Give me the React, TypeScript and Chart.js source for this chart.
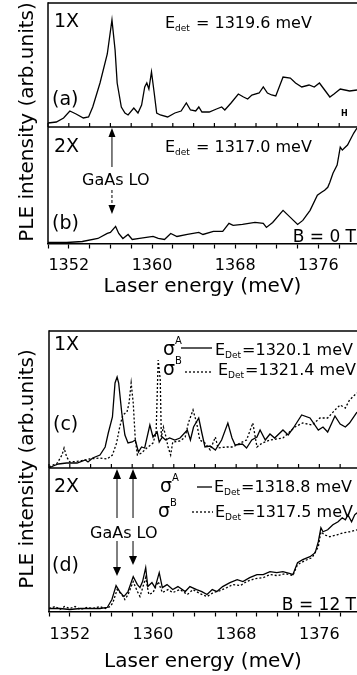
import React, { useEffect, useRef } from 'react';
import { Chart, registerables } from 'chart.js';
Chart.register(...registerables);

const FONT = '"DejaVu Sans", sans-serif';

// ---------- Figure 1 (B = 0 T) ----------
const aEnergy = [1350.0, 1350.8, 1351.5, 1352.1, 1352.7, 1353.4, 1353.9, 1354.3, 1355.0, 1355.7, 1356.15, 1356.45, 1356.65, 1357.05, 1357.4, 1357.7, 1358.25, 1358.65, 1359.0, 1359.3, 1359.5, 1359.7, 1359.95, 1360.2, 1360.45, 1360.8, 1361.5, 1362.2, 1362.8, 1363.3, 1363.7, 1364.2, 1364.5, 1364.8, 1365.5, 1366.2, 1366.7, 1367.0, 1367.6, 1368.3, 1368.8, 1369.2, 1369.6, 1370.3, 1370.7, 1371.1, 1371.5, 1371.9, 1372.6, 1373.3, 1373.8, 1374.4, 1375.1, 1375.6, 1376.1, 1376.6, 1377.1, 1377.5, 1378.1, 1379.0, 1379.71];
const aPLE = [4, 5, 9, 16, 13, 9, 10, 20, 44, 73, 107, 77, 44, 20, 14, 12, 19, 14, 22, 40, 44, 38, 55, 35, 14, 12, 10, 14, 16, 24, 17, 16, 20, 15, 15, 18, 20, 17, 24, 33, 30, 28, 32, 34, 40, 34, 32, 31, 50, 49, 44, 40, 42, 40, 44, 37, 30, 33, 38, 36, 37];

const bEnergy = [1350.0, 1351.8, 1353.3, 1354.8, 1355.7, 1356.0, 1356.5, 1356.8, 1357.2, 1357.7, 1358.1, 1358.8, 1360.1, 1360.6, 1361.2, 1361.8, 1362.4, 1363.4, 1364.5, 1364.9, 1365.9, 1366.8, 1367.4, 1367.8, 1368.7, 1369.9, 1370.7, 1371.0, 1371.6, 1372.6, 1373.3, 1374.0, 1374.5, 1375.2, 1375.9, 1376.3, 1376.6, 1376.9, 1377.1, 1377.4, 1377.8, 1378.0, 1378.1, 1378.3, 1378.5, 1378.8, 1379.1, 1379.4, 1379.71];
const bPLE = [1, 1, 2, 5, 10, 11, 17, 10, 5, 9, 4, 5, 7, 5, 4, 10, 7, 9, 11, 9, 12, 12, 20, 18, 19, 21, 20, 16, 21, 33, 26, 19, 23, 33, 48, 51, 53, 56, 61, 70, 78, 90, 96, 93, 95, 98, 104, 110, 115];

// ---------- Figure 2 (B = 12 T) ----------
const cEnergyA = [1350.0, 1350.4, 1350.9, 1351.7, 1352.7, 1353.5, 1353.75, 1354.2, 1354.9, 1355.4, 1355.7, 1356.1, 1356.35, 1356.55, 1356.7, 1357.0, 1357.3, 1357.6, 1358.0, 1358.3, 1358.6, 1358.9, 1359.2, 1359.7, 1360.0, 1360.4, 1360.6, 1360.9, 1361.2, 1361.6, 1362.1, 1362.6, 1363.3, 1363.6, 1363.9, 1364.4, 1364.7, 1365.0, 1365.5, 1366.0, 1366.6, 1367.2, 1367.6, 1367.9, 1368.6, 1369.0, 1369.5, 1370.0, 1370.3, 1370.8, 1371.25, 1371.7, 1372.5, 1373.0, 1373.5, 1374.3, 1375.1, 1375.9, 1376.35, 1376.8, 1377.5, 1378.0, 1378.5, 1378.9, 1379.62];
const cPLEA = [0, 2, 4, 5, 5, 8, 6, 10, 13, 21, 35, 51, 85, 91, 85, 55, 33, 25, 26, 28, 16, 21, 20, 43, 31, 36, 26, 31, 28, 30, 28, 30, 38, 28, 41, 50, 35, 21, 22, 18, 28, 45, 30, 23, 24, 20, 28, 31, 38, 28, 34, 30, 38, 33, 40, 53, 50, 38, 41, 36, 52, 44, 41, 45, 56];
const cEnergyB = [1350.0, 1350.8, 1351.25, 1351.45, 1351.7, 1352.0, 1353.0, 1353.9, 1354.9, 1355.6, 1356.1, 1356.5, 1356.8, 1357.1, 1357.5, 1357.7, 1357.9, 1358.1, 1358.3, 1358.5, 1358.9, 1359.4, 1360.0, 1360.3, 1360.5, 1360.7, 1360.8, 1361.0, 1361.25, 1361.45, 1361.7, 1361.9, 1362.6, 1363.1, 1363.4, 1363.85, 1364.2, 1364.5, 1365.0, 1365.5, 1366.0, 1366.25, 1367.1, 1367.7, 1368.4, 1369.0, 1369.6, 1370.0, 1370.5, 1371.25, 1372.5, 1373.65, 1374.4, 1375.3, 1376.05, 1376.8, 1377.5, 1378.0, 1378.5, 1378.9, 1379.4, 1379.62];
const cPLEB = [1, 5, 13, 20, 11, 6, 7, 9, 10, 9, 13, 25, 41, 53, 56, 65, 85, 65, 28, 13, 15, 20, 25, 35, 108, 88, 31, 41, 31, 21, 13, 26, 27, 31, 45, 58, 45, 28, 25, 18, 31, 20, 21, 21, 25, 28, 45, 21, 25, 28, 30, 41, 45, 43, 50, 50, 58, 63, 60, 68, 73, 75];

const dEnergyA = [1350.0, 1351.05, 1352.0, 1353.0, 1353.9, 1354.9, 1355.6, 1356.05, 1356.45, 1356.8, 1357.2, 1357.6, 1358.1, 1358.5, 1358.75, 1359.0, 1359.3, 1359.5, 1359.9, 1360.2, 1360.6, 1360.9, 1361.35, 1361.9, 1362.4, 1363.1, 1363.55, 1364.2, 1364.7, 1365.2, 1365.7, 1366.15, 1366.7, 1367.4, 1368.1, 1368.65, 1369.3, 1370.0, 1370.6, 1371.25, 1371.9, 1372.5, 1373.2, 1373.45, 1373.9, 1374.4, 1375.1, 1375.6, 1375.9, 1376.15, 1376.35, 1376.8, 1377.3, 1377.8, 1378.2, 1378.5, 1378.75, 1379.1, 1379.4, 1379.62];
const dPLEA = [3, 3, 2, 3, 3, 3, 4, 12, 26, 20, 15, 20, 35, 27, 24, 30, 44, 25, 29, 24, 39, 24, 27, 22, 25, 20, 25, 22, 20, 17, 22, 20, 25, 29, 32, 30, 34, 37, 37, 40, 39, 40, 38, 37, 49, 52, 55, 59, 70, 84, 80, 82, 87, 90, 94, 92, 97, 90, 97, 99];
const dEnergyB = [1350.0, 1350.6, 1351.05, 1351.5, 1352.0, 1352.5, 1353.0, 1353.65, 1354.2, 1354.9, 1355.4, 1355.9, 1356.15, 1356.55, 1357.0, 1357.3, 1357.6, 1358.1, 1358.5, 1358.75, 1359.3, 1359.6, 1360.0, 1360.5, 1360.9, 1361.45, 1361.9, 1362.6, 1363.3, 1363.85, 1364.5, 1365.2, 1365.8, 1366.45, 1367.1, 1367.7, 1368.4, 1369.0, 1369.8, 1370.6, 1371.25, 1372.0, 1372.7, 1373.45, 1373.9, 1374.6, 1375.3, 1375.9, 1376.15, 1376.5, 1377.0, 1377.7, 1378.3, 1378.9, 1379.62];
const dPLEB = [3, 5, 2, 5, 3, 5, 2, 4, 3, 5, 3, 5, 9, 22, 17, 12, 17, 30, 20, 15, 34, 17, 19, 30, 19, 22, 19, 22, 17, 22, 18, 15, 19, 21, 24, 27, 26, 30, 33, 34, 37, 36, 38, 36, 47, 51, 54, 65, 80, 77, 75, 77, 79, 80, 82];

const tickStep = 2;
const labelEvery = 8;

type Deco = (chart: Chart) => void;

function pts(xs: number[], ys: number[]) {
  return xs.map((x, i) => ({ x, y: ys[i] }));
}

function line(data: { x: number; y: number }[], dotted = false) {
  return {
    data,
    borderColor: '#000',
    borderWidth: 1.3,
    borderDash: dotted ? [2, 2] : [],
    pointRadius: 0,
    fill: false,
    tension: 0,
  };
}

function txt(ctx: CanvasRenderingContext2D, s: string, x: number, y: number, size: number, align: CanvasTextAlign = 'left', weight = '') {
  ctx.font = `${weight} ${size}px ${FONT}`;
  ctx.textAlign = align;
  ctx.textBaseline = 'alphabetic';
  ctx.fillStyle = '#000';
  ctx.fillText(s, x, y);
  return ctx.measureText(s).width;
}

function eLabel(ctx: CanvasRenderingContext2D, x: number, y: number, sub: string, rest: string, size: number) {
  let cx = x;
  cx += txt(ctx, 'E', cx, y, size);
  cx += txt(ctx, sub, cx, y + 3, 9) + 1;
  txt(ctx, rest, cx, y, size);
}

function sigma(ctx: CanvasRenderingContext2D, x: number, y: number, sup: string) {
  const w = txt(ctx, 'σ', x, y, 19);
  txt(ctx, sup, x + w, y - 11, 10);
}

function seg(ctx: CanvasRenderingContext2D, x1: number, x2: number, y: number, dotted: boolean) {
  ctx.save();
  ctx.strokeStyle = '#000';
  ctx.lineWidth = 1.3;
  ctx.setLineDash(dotted ? [2, 2] : []);
  ctx.beginPath();
  ctx.moveTo(x1, y);
  ctx.lineTo(x2, y);
  ctx.stroke();
  ctx.restore();
}

function arrow(ctx: CanvasRenderingContext2D, x: number, yTail: number, yTip: number, head: number, halfW: number, dashed = false) {
  const dir = yTip > yTail ? 1 : -1;
  ctx.save();
  ctx.strokeStyle = '#000';
  ctx.fillStyle = '#000';
  ctx.lineWidth = 1;
  ctx.setLineDash(dashed ? [3, 2] : []);
  ctx.beginPath();
  ctx.moveTo(x, yTail);
  ctx.lineTo(x, yTip - dir * head);
  ctx.stroke();
  ctx.setLineDash([]);
  ctx.beginPath();
  ctx.moveTo(x, yTip);
  ctx.lineTo(x - halfW, yTip - dir * head);
  ctx.lineTo(x + halfW, yTip - dir * head);
  ctx.closePath();
  ctx.fill();
  ctx.restore();
}

function frameLine(ctx: CanvasRenderingContext2D, x1: number, y1: number, x2: number, y2: number) {
  ctx.save();
  ctx.strokeStyle = '#000';
  ctx.lineWidth = 1.5;
  ctx.beginPath();
  ctx.moveTo(x1, y1);
  ctx.lineTo(x2, y2);
  ctx.stroke();
  ctx.restore();
}

function innerTicks(chart: Chart) {
  const { ctx, chartArea } = chart;
  const xs = chart.scales.x;
  ctx.save();
  ctx.strokeStyle = '#000';
  ctx.lineWidth = 1.2;
  for (let v = 1350; v <= 1379; v += tickStep) {
    const px = xs.getPixelForValue(v);
    ctx.beginPath();
    ctx.moveTo(px, chartArea.bottom);
    ctx.lineTo(px, chartArea.bottom - 4);
    ctx.stroke();
  }
  ctx.restore();
}

function yTitle(ctx: CanvasRenderingContext2D, x: number, y: number) {
  ctx.save();
  ctx.translate(x, y);
  ctx.rotate(-Math.PI / 2);
  txt(ctx, 'PLE intensity (arb.units)', 0, 0, 20, 'center');
  ctx.restore();
}

interface PanelCfg {
  datasets: any[];
  xMax: number;
  yMax: number;
  padding: { left: number; top: number; right: number; bottom: number };
  axis?: { tickPad: number; titlePadTop: number };
  deco: Deco;
}

function makeChart(canvas: HTMLCanvasElement, cfg: PanelCfg) {
  const xScale: any = {
    type: 'linear',
    min: 1350,
    max: cfg.xMax,
    display: !!cfg.axis,
  };
  if (cfg.axis) {
    Object.assign(xScale, {
      position: 'bottom',
      grid: { display: true, drawOnChartArea: false, drawTicks: true, tickLength: 5, tickWidth: 1.2, tickColor: '#000' },
      border: { display: true, color: '#000', width: 1.5 },
      ticks: {
        stepSize: tickStep,
        includeBounds: false,
        autoSkip: false,
        maxRotation: 0,
        minRotation: 0,
        padding: cfg.axis.tickPad,
        color: '#000',
        font: { family: FONT, size: 16, lineHeight: 1 },
        callback: (v: number) => (Math.round(v - 1352) % labelEvery === 0 ? String(Math.round(v)) : ''),
      },
      title: {
        display: true,
        text: 'Laser energy (meV)',
        color: '#000',
        font: { family: FONT, size: 20, lineHeight: 1 },
        padding: { top: cfg.axis.titlePadTop, bottom: 0 },
      },
    });
  }
  return new Chart(canvas, {
    type: 'line',
    data: { datasets: cfg.datasets },
    options: {
      animation: false,
      responsive: false,
      maintainAspectRatio: false,
      devicePixelRatio: 1,
      layout: { padding: cfg.padding },
      plugins: { legend: { display: false }, tooltip: { enabled: false }, title: { display: false } },
      scales: {
        x: xScale,
        y: { type: 'linear', min: 0, max: cfg.yMax, display: false },
      },
    },
    plugins: [{ id: 'deco', afterDatasetsDraw: (chart: Chart) => cfg.deco(chart) }],
  } as any);
}

function ChartCanvas({ top, height, cfg }: { top: number; height: number; cfg: PanelCfg }) {
  const ref = useRef<HTMLCanvasElement>(null);
  useEffect(() => {
    const chart = makeChart(ref.current!, cfg);
    return () => chart.destroy();
  }, []);
  return (
    <canvas
      ref={ref}
      width={357}
      height={height}
      style={{ position: 'absolute', left: 0, top, width: 357, height, display: 'block' }}
    />
  );
}

// Figure 1 canvas: page y 0..300. Panel a: 3..127, panel b: 127..243
const panelA: PanelCfg = {
  datasets: [line(pts(aEnergy, aPLE))],
  xMax: 1379.71,
  yMax: 124,
  padding: { left: 48, top: 3, right: 0, bottom: 300 - 127 },
  deco: (chart) => {
    const { ctx, chartArea: ca } = chart;
    frameLine(ctx, ca.left, ca.top, ca.right + 2, ca.top);
    frameLine(ctx, ca.left, ca.top - 0.75, ca.left, ca.bottom);
    frameLine(ctx, ca.left, ca.bottom, ca.right + 2, ca.bottom);
    innerTicks(chart);
    txt(ctx, '1X', 54, 27, 19);
    eLabel(ctx, 165, 28, 'det', ' = 1319.6 meV', 16);
    txt(ctx, '(a)', 52, 105, 19);
    txt(ctx, 'H', 341, 116, 8, 'left', 'bold');
  },
};

const panelB: PanelCfg = {
  datasets: [line(pts(bEnergy, bPLE))],
  xMax: 1379.71,
  yMax: 116,
  padding: { left: 48, top: 127, right: 0, bottom: 3 },
  axis: { tickPad: 9.5, titlePadTop: -6.5 },
  deco: (chart) => {
    const { ctx, chartArea: ca } = chart;
    const xs = chart.scales.x;
    frameLine(ctx, ca.left, ca.top, ca.left, ca.bottom);
    txt(ctx, '2X', 54, 152, 19);
    eLabel(ctx, 165, 152, 'det', ' = 1317.0 meV', 16);
    txt(ctx, 'GaAs LO', 82, 185, 16);
    txt(ctx, '(b)', 52, 229, 19);
    txt(ctx, 'B = 0 T', 356, ca.bottom - 2, 17, 'right');
    const lo = xs.getPixelForValue(1356.15);
    arrow(ctx, lo, 167, ca.top + 1, 9, 3.5);
    arrow(ctx, lo, 190, 214, 9, 3.5, true);
    yTitle(ctx, 33, 122);
  },
};

// Figure 2 canvas: page y 330..675 (local = page - 330). Panel c: 1..138, panel d: 138..282
const panelC: PanelCfg = {
  datasets: [line(pts(cEnergyA, cPLEA)), line(pts(cEnergyB, cPLEB), true)],
  xMax: 1379.62,
  yMax: 137,
  padding: { left: 49, top: 1, right: 0, bottom: 345 - 138 },
  deco: (chart) => {
    const { ctx, chartArea: ca } = chart;
    frameLine(ctx, ca.left, ca.top, ca.right + 2, ca.top);
    frameLine(ctx, ca.left, ca.top - 0.75, ca.left, ca.bottom);
    frameLine(ctx, ca.left, ca.bottom, ca.right + 2, ca.bottom);
    innerTicks(chart);
    txt(ctx, '1X', 54, 20, 19);
    sigma(ctx, 163, 25, 'A');
    seg(ctx, 181, 212, 18, false);
    eLabel(ctx, 215, 25, 'Det', '=1320.1 meV', 16);
    sigma(ctx, 163, 45, 'B');
    seg(ctx, 185, 213, 42, true);
    eLabel(ctx, 218, 45, 'Det', '=1321.4 meV', 16);
    txt(ctx, '(c)', 53, 100, 19);
  },
};

const panelD: PanelCfg = {
  datasets: [line(pts(dEnergyA, dPLEA)), line(pts(dEnergyB, dPLEB), true)],
  xMax: 1379.62,
  yMax: 144,
  padding: { left: 49, top: 138, right: 0, bottom: 3 },
  axis: { tickPad: 10.5, titlePadTop: -1.5 },
  deco: (chart) => {
    const { ctx, chartArea: ca } = chart;
    const xs = chart.scales.x;
    frameLine(ctx, ca.left, ca.top, ca.left, ca.bottom);
    txt(ctx, '2X', 54, 162, 19);
    sigma(ctx, 160, 162, 'A');
    seg(ctx, 197, 212, 157, false);
    eLabel(ctx, 214, 162, 'Det', '=1318.8 meV', 16);
    sigma(ctx, 158, 187, 'B');
    seg(ctx, 192, 213, 182, true);
    eLabel(ctx, 215, 187, 'Det', '=1317.5 meV', 16);
    txt(ctx, 'GaAs LO', 90, 208, 16);
    txt(ctx, '(d)', 52, 241, 19);
    txt(ctx, 'B = 12 T', 356, ca.bottom - 2, 17, 'right');
    const lo1 = xs.getPixelForValue(1356.54);
    const lo2 = xs.getPixelForValue(1358.08);
    arrow(ctx, lo1, 188, ca.top + 1, 10, 4);
    arrow(ctx, lo2, 188, ca.top + 1, 10, 4);
    arrow(ctx, lo1, 211, 246, 9, 4);
    arrow(ctx, lo2, 211, 235, 9, 4);
    yTitle(ctx, 33, 139);
  },
};

export default function App() {
  return (
    <div style={{ position: 'absolute', left: 0, top: 0, width: 357, height: 675, background: '#fff', overflow: 'hidden' }}>
      <div style={{ position: 'absolute', left: 0, top: 0, width: 357, height: 300 }}>
        <ChartCanvas top={0} height={300} cfg={panelA} />
        <ChartCanvas top={0} height={300} cfg={panelB} />
      </div>
      <div style={{ position: 'absolute', left: 0, top: 330, width: 357, height: 345 }}>
        <ChartCanvas top={0} height={345} cfg={panelC} />
        <ChartCanvas top={0} height={345} cfg={panelD} />
      </div>
    </div>
  );
}
